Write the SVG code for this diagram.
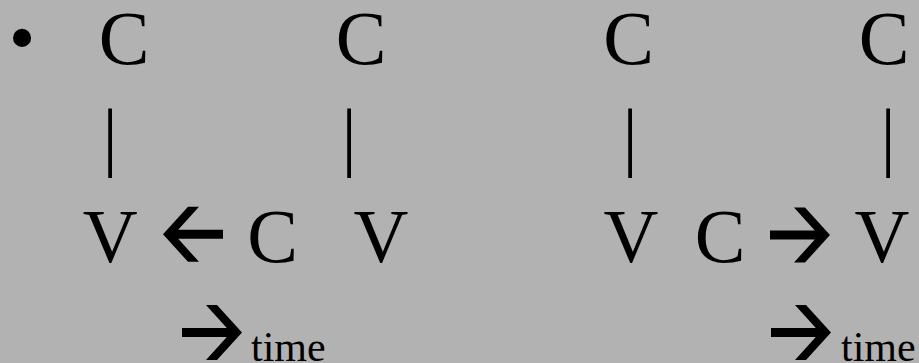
<svg xmlns="http://www.w3.org/2000/svg" xmlns:xlink="http://www.w3.org/1999/xlink" width="919" height="363" viewBox="0 0 919 363">
  <style>
    .t { font-family: "Liberation Serif", "Times New Roman", serif; font-size: 76px; fill: #000; text-anchor: middle; }
    .s { font-family: "Liberation Serif", "Times New Roman", serif; font-size: 42px; fill: #000; }
    .arr { fill: #000; }
  </style>
  <defs>
    <path id="arrowR" class="arr" d="M0,0 L-25,-27.5 L-36,-27.5 L-15.2,-4.5 L-60,-4.5 L-60,4.5 L-15.2,4.5 L-36,27.5 L-25,27.5 Z"/>
  </defs>
  <rect x="0" y="0" width="919" height="363" fill="#b2b2b2"/>

  <g id="bullet"><text class="t" x="22" y="63">•</text></g>

  <g id="top-c">
    <text id="c1" class="t" x="124" y="64">C</text>
    <text id="c2" class="t" x="361" y="64">C</text>
    <text id="c3" class="t" x="628.5" y="64">C</text>
    <text id="c4" class="t" x="884" y="64">C</text>
  </g>

  <g id="bars">
    <text class="t" x="110" y="162">|</text>
    <text class="t" x="349" y="162">|</text>
    <text class="t" x="630" y="162">|</text>
    <text class="t" x="888" y="162">|</text>
  </g>

  <g id="row3-left">
    <text id="v1" class="t" x="110.3" y="262">V</text>
    <text id="c5" class="t" x="272.7" y="262">C</text>
    <text id="v2" class="t" x="381" y="262">V</text>
  </g>
  <g id="row3-right">
    <text id="v3" class="t" x="631" y="262">V</text>
    <text id="c6" class="t" x="720" y="262">C</text>
    <text id="v4" class="t" x="882" y="262">V</text>
  </g>

  <g id="time-left"><text class="s" x="251" y="361">time</text></g>
  <g id="time-right"><text class="s" x="841" y="361">time</text></g>

  <g id="connectors">
    <use xlink:href="#arrowR" transform="translate(163,234.3) scale(-1,1)"/>
    <use xlink:href="#arrowR" transform="translate(830,235)"/>
    <use xlink:href="#arrowR" transform="translate(242,332.5)"/>
    <use xlink:href="#arrowR" transform="translate(831,332.5)"/>
  </g>
</svg>
